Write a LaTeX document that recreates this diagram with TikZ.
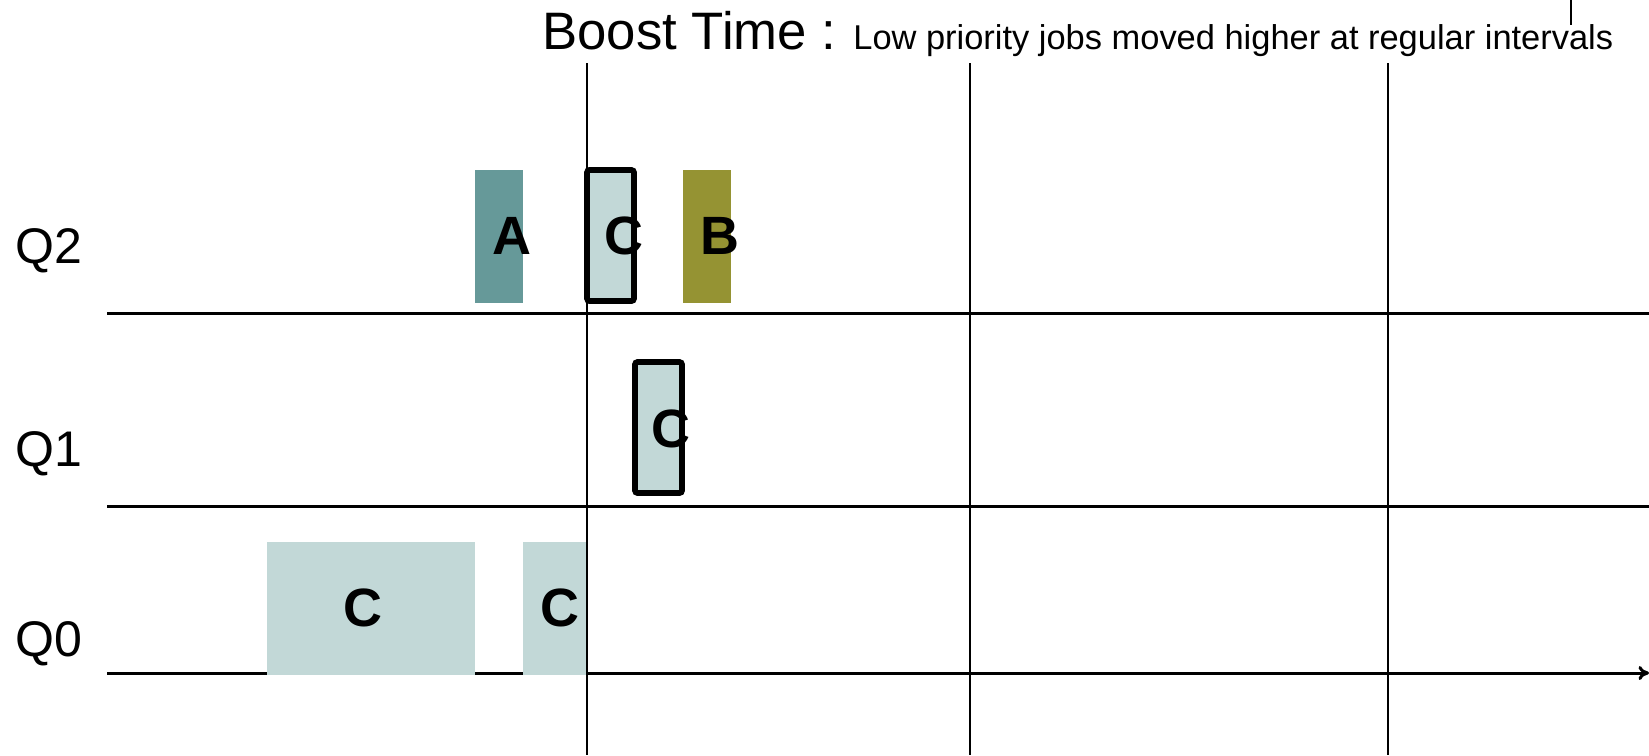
\documentclass[tikz,border=0pt]{standalone}
\usepackage{fontspec}
\setmainfont{Liberation Sans}
\usetikzlibrary{arrows.meta}
\definecolor{JobA}{RGB}{102,153,153}
\definecolor{JobB}{RGB}{149,147,51}
\definecolor{JobC}{RGB}{194,216,215}

\begin{document}
\begin{tikzpicture}[
 x=0.02cm, y=-0.02cm,
 lane/.style={line width=1.7pt},
 tick/.style={line width=1.3pt},
 bar/.style={fill=#1},
 boosted/.style={draw, line width=3.3pt, rounded corners=1.5pt, fill=JobC},
 job/.style={font=\fontsize{30.7}{32}\selectfont\bfseries, inner sep=0pt},
 queue/.style={font=\fontsize{28.5}{30}\selectfont, anchor=west, inner sep=0pt},
 title/.style={anchor=base west, inner sep=0pt}
]
\useasboundingbox (0,0) rectangle (1649,755);

% queue lanes
\draw[lane] (107,313) -- (1649,313);
\draw[lane] (107,506) -- (1649,506);
\draw[lane, -{To[length=6pt,width=8pt]}] (107,673) -- (1649,673);

\node[queue] (q2) at (15,251) {Q2};
\node[queue] (q1) at (15,454) {Q1};
\node[queue] (q0) at (15,644) {Q0};

% jobs before the boost
\fill[bar=JobC] (267,542) rectangle (475,675);
\fill[bar=JobC] (523,542) rectangle (586,675);
\fill[bar=JobA] (475,170) rectangle (523,303);
\fill[bar=JobB] (683,170) rectangle (731,303);

% boost times
\foreach \bx in {587,970,1388}
  \draw[tick] (\bx,63) -- (\bx,755);
\draw[line width=0.8pt] (1571,0) -- (1571,25);

% C after the boost
\draw[boosted] (587,170) rectangle (634,301);
\draw[boosted] (635,362) rectangle (682,493);

\node[job] (c0a) at (363,608) {C};
\node[job] (c0b) at (560,608) {C};
\node[job] (ja) at (512,236) {A};
\node[job] (c2) at (624,236) {C};
\node[job] (jb) at (720,236) {B};
\node[job] (c1) at (671,429) {C};

\node[title, font=\fontsize{30}{32}\selectfont] (boost) at (542,49) {Boost Time :};
\node[title, font=\fontsize{19.6}{21}\selectfont] (note) at (853,49) {Low priority jobs moved higher at regular intervals};
\end{tikzpicture}
\end{document}
